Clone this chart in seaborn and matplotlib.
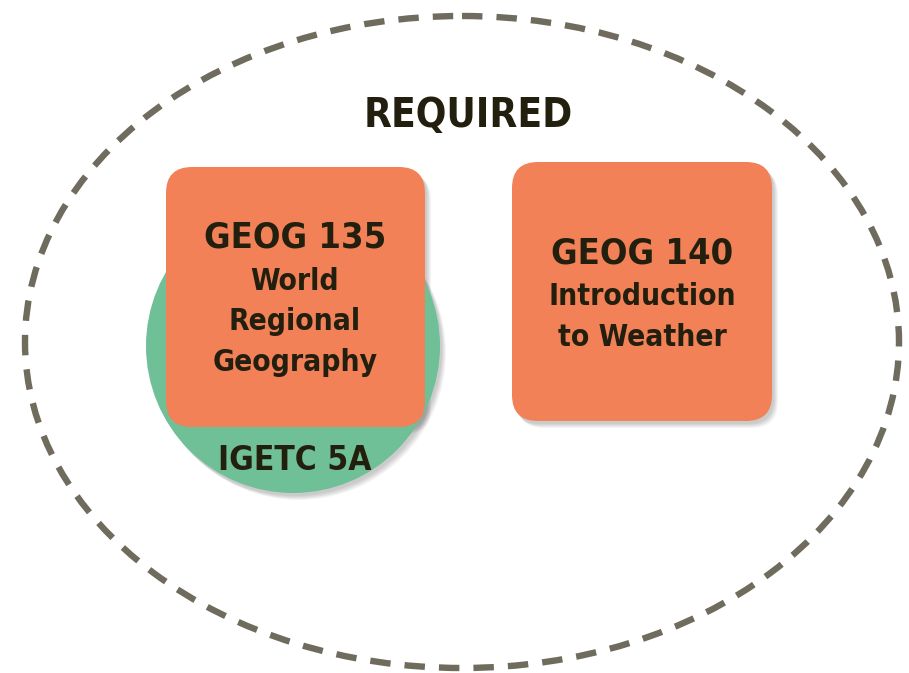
import matplotlib
matplotlib.use('Agg')
import matplotlib.pyplot as plt
import seaborn as sns
from matplotlib.patches import Ellipse, Circle, FancyBboxPatch

# Diagram content
title_text = "REQUIRED"
course_codes = ["GEOG 135", "GEOG 140"]
course_names = ["World\nRegional\nGeography", "Introduction\nto Weather"]
badge_text = "IGETC 5A"

# Colours
box_color = "#f28157"
badge_color = "#6fbf97"
ring_color = "#6f6c5e"
text_color = "#231f0f"

sns.set_style("white")
plt.rcParams['font.family'] = ['DejaVu Sans']

fig = plt.figure(figsize=(9.09, 6.73), dpi=100)
ax = fig.add_axes([0, 0, 1, 1])
ax.set_xlim(0, 909)
ax.set_ylim(673, 0)
ax.set_aspect('equal')
ax.axis('off')

# outer dashed ellipse
ax.add_patch(Ellipse((462, 342), 874, 652, fill=False, edgecolor=ring_color,
                     linewidth=4.6, linestyle=(0, (3.2, 2.2)), zorder=1))


def soft_shadow(patch_fn, dx, dy, layers=6):
    for i in range(layers):
        p = patch_fn(dx + i * 0.8, dy + i * 0.8)
        p.set_facecolor('black')
        p.set_edgecolor('none')
        p.set_alpha(0.035)
        p.set_zorder(2)
        ax.add_patch(p)


# green badge circle
badge_xy, badge_r = (293, 346), 147
soft_shadow(lambda dx, dy: Circle((badge_xy[0] + dx, badge_xy[1] + dy), badge_r), 2, 3)
ax.add_patch(Circle(badge_xy, badge_r, facecolor=badge_color, edgecolor='none', zorder=3))

# course boxes (x0, y0, w, h)
boxes = [(166, 167, 259, 260), (512, 162, 260, 259)]
pad = 26
for (x0, y0, w, h) in boxes:
    soft_shadow(lambda dx, dy: FancyBboxPatch((x0 + pad + dx, y0 + pad + dy), w - 2 * pad, h - 2 * pad,
                                              boxstyle=f"round,pad={pad}"), 2, 3)
    ax.add_patch(FancyBboxPatch((x0 + pad, y0 + pad), w - 2 * pad, h - 2 * pad,
                                boxstyle=f"round,pad={pad}", facecolor=box_color,
                                edgecolor='none', zorder=4))

txt = dict(ha='center', va='center', fontweight='bold', fontstretch='condensed',
           color=text_color, zorder=6)

ax.text(468, 116, title_text, fontsize=29, **txt)

code_pos = [(295, 238), (642, 253)]
name_pos = [(295, 322), (642, 317)]
for code, name, cp, npos in zip(course_codes, course_names, code_pos, name_pos):
    ax.text(cp[0], cp[1], code, fontsize=26, **txt)
    ax.text(npos[0], npos[1], name, fontsize=21.5, linespacing=1.5, **txt)

ax.text(295, 461, badge_text, fontsize=24, **txt)

fig.savefig("out.png", dpi=100, facecolor='white')
